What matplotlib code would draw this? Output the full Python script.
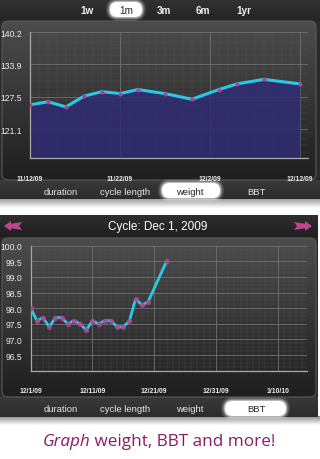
import numpy as np
import pandas as pd
import matplotlib
matplotlib.use('Agg')
import matplotlib.pyplot as plt
import matplotlib.dates as mdates
from matplotlib.patches import FancyBboxPatch, Polygon
from matplotlib.colors import LinearSegmentedColormap

# weight chart data
weight_dates = ['2009-11-12', '2009-11-14', '2009-11-16', '2009-11-18', '2009-11-20',
                '2009-11-22', '2009-11-24', '2009-11-27', '2009-11-30', '2009-12-03',
                '2009-12-05', '2009-12-08', '2009-12-12']
weight = [125.9, 126.5, 125.5, 127.6, 128.5, 128.1, 128.9, 128.1, 127.0, 128.9,
          130.0, 130.9, 130.0]
weight_yticks = [121.1, 127.5, 133.9, 140.2]
weight_xticks = ['2009-11-12', '2009-11-22', '2009-12-02', '2009-12-12']
weight_xlabels = ['11/12/09', '11/22/09', '12/2/09', '12/12/09']

# BBT chart data
bbt_dates = ['2009-12-%02d' % d for d in range(1, 21)] + ['2009-12-23']
bbt = [98.0, 97.6, 97.7, 97.4, 97.7, 97.7, 97.5, 97.6, 97.5, 97.3,
       97.6, 97.5, 97.6, 97.6, 97.4, 97.4, 97.6, 98.3, 98.1, 98.2, 99.5]
bbt_yticks = [96.5, 97.0, 97.5, 98.0, 98.5, 99.0, 99.5, 100.0]
bbt_xticks = ['2009-12-01', '2009-12-11', '2009-12-21', '2009-12-31', '2010-01-10']
bbt_xlabels = ['12/1/09', '12/11/09', '12/21/09', '12/31/09', '1/10/10']

range_tabs = ['1w', '1m', '3m', '6m', '1yr']
chart_tabs = ['duration', 'cycle length', 'weight', 'BBT']

UI = 'Liberation Sans'
CYAN = '#2bc9e8'
MAGENTA = '#b4408f'

fig = plt.figure(figsize=(3.2, 4.6), dpi=100)
fig.patch.set_facecolor('white')

# background layer in pixel coordinates
bg = fig.add_axes([0, 0, 1, 1], zorder=0)
bg.set_axis_off()


def gradient(x0, y0, x1, y1, top, bottom, r=0, edge='none'):
    box = FancyBboxPatch((x0, y0), x1 - x0, y1 - y0,
                         boxstyle='round,pad=0,rounding_size=%g' % r,
                         facecolor='none', edgecolor=edge, lw=0.8, zorder=3)
    bg.add_patch(box)
    cmap = LinearSegmentedColormap.from_list('g', [top, bottom])
    im = bg.imshow(np.linspace(0, 1, 128)[:, None], cmap=cmap, aspect='auto',
                   extent=(x0, x1, y1, y0), zorder=2, interpolation='bilinear')
    im.set_clip_path(box)


def pill(x0, y0, x1, y1):
    for k, a in [(4, 0.12), (2.5, 0.25), (1.2, 0.45)]:
        bg.add_patch(FancyBboxPatch((x0 - k, y0 - k), x1 - x0 + 2 * k, y1 - y0 + 2 * k,
                                    boxstyle='round,pad=0,rounding_size=%g' % ((y1 - y0) / 2 + k),
                                    facecolor='white', edgecolor='none', alpha=a, zorder=4))
    bg.add_patch(FancyBboxPatch((x0, y0), x1 - x0, y1 - y0,
                                boxstyle='round,pad=0,rounding_size=%g' % ((y1 - y0) / 2),
                                facecolor='white', edgecolor='none', zorder=5))


def tabbar(y, selected, x0, x1, py0, py1):
    xs = [61, 125, 190, 256]
    for lab, x in zip(chart_tabs, xs):
        if lab == selected:
            pill(x0, py0, x1, py1)
            c = '#222222'
        else:
            c = '#e6e6e6'
        bg.text(x, y, lab, ha='center', va='center', fontsize=6.8, color=c,
                family=UI, zorder=6)


# shadows under the two blocks
gradient(0, 199, 320, 209, '#8a8a8a', '#ffffff')
gradient(0, 417, 320, 426, '#8a8a8a', '#ffffff')

# block 1: range tabs, chart panel, chart tabs
gradient(0, 0, 320, 22, '#333333', '#242424')
gradient(0, 22, 320, 183, '#2a2a2a', '#2a2a2a')
gradient(0, 181, 320, 200, '#3a3a3a', '#2c2c2c')
gradient(2, 22, 316, 181, '#4c4c4c', '#1f1f1f', r=6, edge='#5a5a5a')

for lab, x in zip(range_tabs, [87, 126, 164, 203, 244]):
    if lab == '1m':
        pill(110, 3, 142, 18)
        bg.text(x, 10.5, lab, ha='center', va='center', fontsize=7.2, color='#222222',
                family=UI, zorder=6)
    else:
        bg.text(x, 10.5, lab, ha='center', va='center', fontsize=7.2, color='#f0f0f0',
                family=UI, weight='bold', zorder=6)
tabbar(192.5, 'weight', 162, 220, 184, 199)

# block 2: cycle header, chart panel, chart tabs
gradient(0, 216, 318, 240, '#2e2e2e', '#1e1e1e')
gradient(0, 238, 318, 400, '#2a2a2a', '#2a2a2a')
gradient(0, 397, 318, 418, '#3a3a3a', '#2c2c2c')
gradient(2, 239, 316, 398, '#4c4c4c', '#1f1f1f', r=6, edge='#5a5a5a')
bg.text(158, 227.5, 'Cycle: Dec 1, 2009', ha='center', va='center', fontsize=8.5,
        color='white', family=UI, zorder=6)
left_arrow = [(4, 227), (11, 222), (11, 224.8), (22, 223), (19, 227), (22, 231),
              (11, 229.2), (11, 232)]
bg.add_patch(Polygon(left_arrow, closed=True, facecolor='#c0458f', edgecolor='none', zorder=6))
bg.add_patch(Polygon([(316 - x, y) for x, y in left_arrow], closed=True,
                     facecolor='#c0458f', edgecolor='none', zorder=6))
tabbar(409.5, 'BBT', 225, 286, 402, 417)

# caption
bg.text(90, 442, 'Graph', ha='right', va='center', fontsize=12.3, color='#8c1a64',
        family='Open Sans', style='italic', zorder=6)
bg.text(90, 442, ' weight, BBT and more!', ha='left', va='center', fontsize=12.3,
        color='#8c1a64', family='Open Sans', zorder=6)

bg.set_xlim(0, 320)
bg.set_ylim(460, 0)


def style_axes(ax, ymin, ymax, yticks, xticks, xlabels, x0, x1, yminor):
    ax.set_facecolor('none')
    ax.set_ylim(ymin, ymax)
    ax.set_xlim(x0, x1)
    ax.set_yticks(yticks)
    ax.set_yticklabels(['%.1f' % v for v in yticks])
    ax.set_xticks(pd.to_datetime(xticks))
    ax.set_xticklabels(xlabels)
    ax.xaxis.set_minor_locator(mdates.DayLocator())
    ax.set_yticks(np.arange(ymin, ymax, yminor), minor=True)
    ax.grid(True, which='major', color='#727272', lw=0.6)
    ax.grid(True, which='minor', color='#5a5a5a', lw=0.35, alpha=0.6)
    for s in ['top', 'right']:
        ax.spines[s].set_visible(False)
    for s in ['left', 'bottom']:
        ax.spines[s].set_color('#a8a8a8')
        ax.spines[s].set_linewidth(0.9)
    ax.tick_params(which='both', length=0, colors='#e0e0e0')
    ax.tick_params(axis='y', labelsize=6.2, pad=6)
    ax.tick_params(axis='x', labelsize=4.9, pad=12)
    for t in ax.get_xticklabels() + ax.get_yticklabels():
        t.set_family(UI)
        t.set_color('#ededed')
    for t in ax.get_xticklabels():
        t.set_weight('bold')


# weight chart
ax1 = fig.add_axes([30 / 320, 1 - 159.3 / 460, 278 / 320, 126.3 / 460], zorder=1)
wd = pd.to_datetime(weight_dates)
start1 = mdates.date2num(wd[0])
style_axes(ax1, 115.4, 140.2, weight_yticks, weight_xticks, weight_xlabels,
           start1, start1 + 30.9, 1.27)
ax1.fill_between(wd, weight, 115.4, color='#2f2c74', alpha=0.85, zorder=2, lw=0)
ax1.plot(wd, weight, color=CYAN, lw=2.2, zorder=3, solid_capstyle='round')
ax1.plot(wd, weight, 'o', color=MAGENTA, ms=3, zorder=4, mec='none')

# BBT chart
ax2 = fig.add_axes([30.7 / 320, 1 - 371.7 / 460, 276 / 320, 125 / 460], zorder=1)
bd = pd.to_datetime(bbt_dates)
start2 = mdates.date2num(bd[0])
style_axes(ax2, 96.0, 100.0, bbt_yticks, bbt_xticks, bbt_xlabels,
           start2, start2 + 44.7, 0.125)
ax2.plot(bd, bbt, color=CYAN, lw=2.0, zorder=3, solid_capstyle='round')
ax2.plot(bd, bbt, 'o', color=MAGENTA, ms=3.8, zorder=4, mec='none', alpha=0.85)

fig.savefig('out.png', dpi=100)
